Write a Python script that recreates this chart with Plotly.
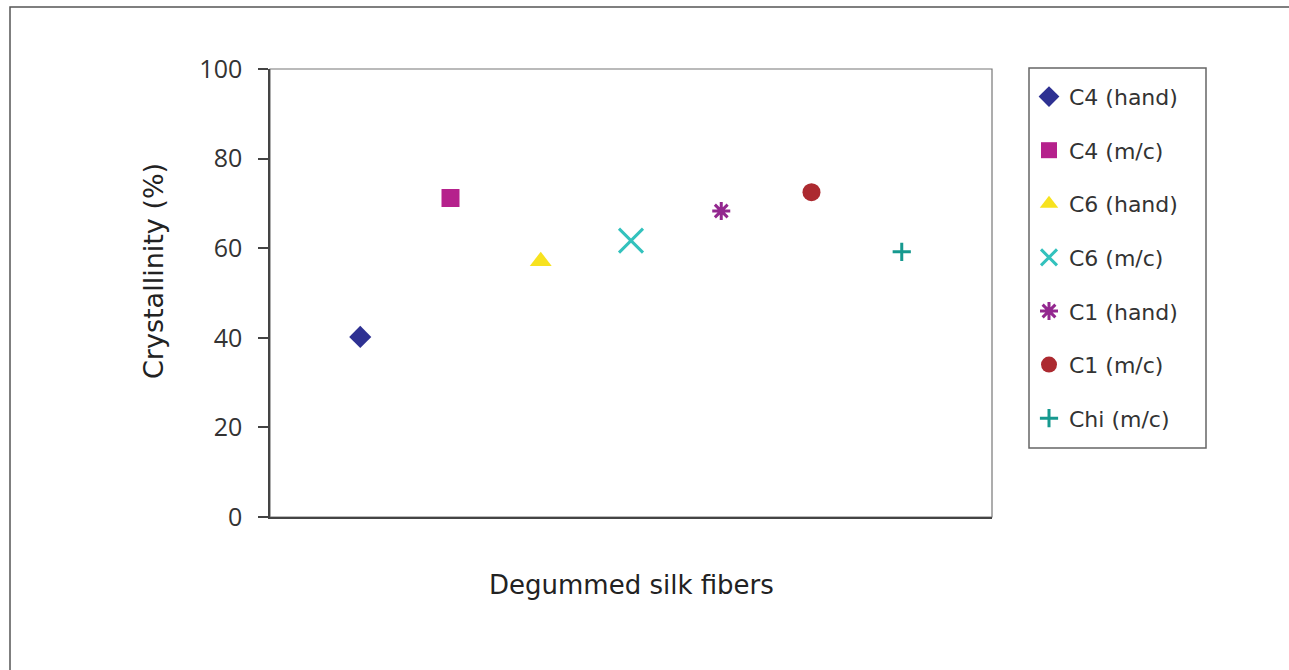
import plotly.graph_objects as go

# Crystallinity of degummed silk fibers by sample
samples = ["C4 (hand)", "C4 (m/c)", "C6 (hand)", "C6 (m/c)", "C1 (hand)", "C1 (m/c)", "Chi (m/c)"]
positions = [1, 2, 3, 4, 5, 6, 7]
crystallinity = [40.2, 71.2, 57.1, 61.7, 68.3, 72.5, 59.2]

y_ticks = [0, 20, 40, 60, 80, 100]

symbols = ["diamond", "square", "triangle-up", "x-thin-open", "asterisk-open", "circle", "cross-thin-open"]
colors = ["#2E3192", "#B5218C", "#F7E21F", "#33C2BD", "#93278F", "#AC2A30", "#16998F"]
sizes = [17, 18, 19, 24, 15, 18, 13]

W, H = 1289, 670
L, R, T, B = 270, 297, 69, 153
pw, ph = W - L - R, H - T - B

fig = go.Figure()
for name, x, y, sym, col, sz in zip(samples, positions, crystallinity, symbols, colors, sizes):
    fig.add_trace(go.Scatter(
        x=[x], y=[y], mode="markers", name=name, legendgroup=name,
        marker=dict(symbol=sym, color=col, size=sz,
                    line=dict(color=col, width=3 if sym.endswith("open") else 0)),
    ))

# pixel -> paper coordinate helpers
def px_x(v):
    return (v - L) / pw

def px_y(v):
    return 1 - (v - T) / ph

# outer frame around the whole figure
fig.add_shape(type="rect", xref="paper", yref="paper",
              x0=px_x(10), x1=px_x(1300), y0=px_y(7), y1=px_y(700),
              line=dict(color="#555555", width=1.5), layer="below")

# frame around the plotting area
fig.add_shape(type="rect", xref="paper", yref="paper", x0=0, x1=1, y0=0, y1=1,
              line=dict(color="#777777", width=1.2), layer="below")

# frame around the legend
fig.add_shape(type="rect", xref="paper", yref="paper",
              x0=px_x(1029), x1=px_x(1206), y0=px_y(68), y1=px_y(448),
              line=dict(color="#666666", width=1.5), layer="above")

title_font = "DejaVu Sans, Liberation Sans, sans-serif"
tick_font = "Open Sans, Liberation Sans, sans-serif"

# axis titles
fig.add_annotation(text="Degummed silk fibers", xref="paper", yref="paper",
                   x=px_x(631), y=px_y(585), xanchor="center", yanchor="middle",
                   showarrow=False, font=dict(family=title_font, size=26, color="#222222"))
fig.add_annotation(text="Crystallinity (%)", xref="paper", yref="paper",
                   x=px_x(153), y=px_y(271), xanchor="center", yanchor="middle", textangle=-90,
                   showarrow=False, font=dict(family=title_font, size=27, color="#222222"))

fig.update_layout(
    width=W, height=H,
    margin=dict(l=L, r=R, t=T, b=B, pad=0),
    paper_bgcolor="white", plot_bgcolor="white",
    font=dict(family=title_font, color="#222222", size=22),
    xaxis=dict(range=[0, 8], showticklabels=False, ticks="", showgrid=False, zeroline=False,
               showline=True, linecolor="#444444", linewidth=1.5, mirror=False),
    yaxis=dict(range=[0, 100], tickvals=y_ticks, ticks="outside", ticklen=10, tickwidth=1.5,
               tickcolor="#444444", showgrid=False, zeroline=False,
               showline=True, linecolor="#444444", linewidth=1.5,
               tickfont=dict(family=tick_font, size=25, color="#333333"), ticklabelstandoff=11),
    legend=dict(x=px_x(1029), y=px_y(68), xanchor="left", yanchor="top",
                borderwidth=0, bgcolor="rgba(0,0,0,0)",
                font=dict(family=title_font, size=22, color="#333333"), tracegroupgap=22,
                title=dict(text=" ", font=dict(size=6)), maxheight=1.0),
    showlegend=True,
)

fig.write_html("out.html")
